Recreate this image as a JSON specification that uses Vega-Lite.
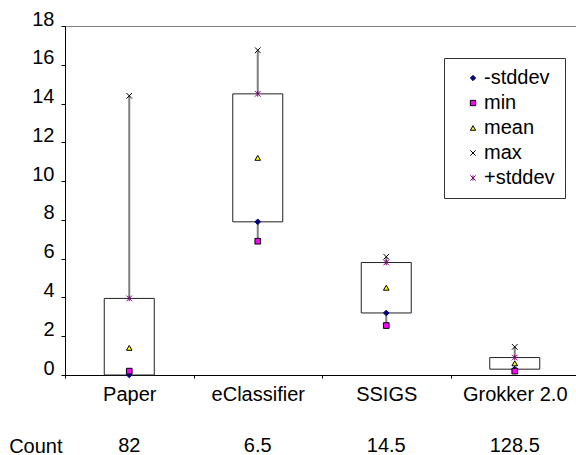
{
  "$schema": "https://vega.github.io/schema/vega-lite/v6.json",
  "padding": {"left": 8, "top": 8, "right": 0, "bottom": 0},
  "background": "white",
  "config": {
    "font": "Liberation Sans",
    "view": {"stroke": null},
    "axis": {"labelColor": "black", "labelFont": "Liberation Sans", "grid": false, "labelOverlap": false},
    "axisY": {"labelOverlap": false, "tickSize": 4, "tickColor": "black", "domainColor": "black", "labelFontSize": 20, "labelOffset": -7, "labelPadding": 7}
  },
  "data": {
    "values": [
      {"tool": "Paper", "-stddev": 0, "min": 0.2, "mean": 1.4, "max": 14.4, "+stddev": 3.95, "count": "82", "row": "Count"},
      {"tool": "eClassifier", "-stddev": 7.9, "min": 6.9, "mean": 11.2, "max": 16.75, "+stddev": 14.5, "count": "6.5", "row": "Count"},
      {"tool": "SSIGS", "-stddev": 3.2, "min": 2.55, "mean": 4.5, "max": 6.1, "+stddev": 5.8, "count": "14.5", "row": "Count"},
      {"tool": "Grokker 2.0", "-stddev": 0.3, "min": 0.2, "mean": 0.6, "max": 1.45, "+stddev": 0.9, "count": "128.5", "row": "Count"}
    ]
  },
  "resolve": {"scale": {"x": "independent", "y": "independent"}},
  "spacing": 31,
  "vconcat": [
    {
      "width": 514,
      "height": 349,
      "view": {"stroke": "#808080", "strokeWidth": 1},
      "encoding": {
        "x": {
          "field": "tool", "type": "nominal", "sort": null,
          "scale": {"type": "band", "paddingInner": 0, "paddingOuter": 0},
          "axis": {"title": null, "tickBand": "extent", "tickSize": 3, "labelFontSize": 20, "labelPadding": 6, "labelAngle": 0, "labelOverlap": false, "domainColor": "black", "tickColor": "black"}
        }
      },
      "layer": [
        {
          "mark": {"type": "rule", "color": "#808080", "strokeWidth": 2},
          "encoding": {
            "y": {"field": "min", "type": "quantitative", "scale": {"domain": [0, 18], "nice": false},
              "axis": {"title": null, "values": [0, 2, 4, 6, 8, 10, 12, 14, 16, 18], "labelOverlap": false}},
            "y2": {"field": "max"}
          }
        },
        {
          "mark": {"type": "bar", "size": 50, "fill": "white", "stroke": "#222222", "strokeWidth": 1},
          "encoding": {
            "y": {"field": "-stddev", "type": "quantitative", "scale": {"domain": [0, 18], "nice": false},
              "axis": {"title": null, "values": [0, 2, 4, 6, 8, 10, 12, 14, 16, 18], "labelOverlap": false}},
            "y2": {"field": "+stddev"}
          }
        },
        {
          "transform": [{"fold": ["-stddev", "min", "mean", "max", "+stddev"], "as": ["series", "value"]}],
          "mark": {"type": "point", "filled": true, "size": 32, "strokeWidth": 1, "opacity": 1},
          "encoding": {
            "y": {"field": "value", "type": "quantitative", "scale": {"domain": [0, 18], "nice": false},
              "axis": {"title": null, "values": [0, 2, 4, 6, 8, 10, 12, 14, 16, 18], "labelOverlap": false}},
            "shape": {
              "field": "series", "type": "nominal",
              "scale": {"domain": ["-stddev", "min", "mean", "max", "+stddev"], "range": ["diamond", "square", "triangle-up", "M-1,-1L1,1M-1,1L1,-1", "M-1,-1L1,1M-1,1L1,-1M0,-1L0,1"]},
              "legend": {"title": null, "orient": "none", "legendX": 379, "legendY": 32, "strokeColor": "#333333", "fillColor": "white", "padding": 10, "labelFontSize": 20, "rowPadding": 5, "symbolSize": 28, "symbolStrokeWidth": 1, "labelOffset": 1, "symbolOffset": 9, "labelExpr": "datum.label + '  '"}
            },
            "fill": {
              "field": "series", "type": "nominal",
              "scale": {"domain": ["-stddev", "min", "mean", "max", "+stddev"], "range": ["#000080", "#FF00FF", "#FFFF00", "transparent", "transparent"]},
              "legend": {"title": null, "orient": "none", "legendX": 379, "legendY": 32, "strokeColor": "#333333", "fillColor": "white", "padding": 10, "labelFontSize": 20, "rowPadding": 5, "symbolSize": 28, "symbolStrokeWidth": 1, "labelOffset": 1, "symbolOffset": 9, "labelExpr": "datum.label + '  '"}
            },
            "stroke": {
              "field": "series", "type": "nominal",
              "scale": {"domain": ["-stddev", "min", "mean", "max", "+stddev"], "range": ["#000080", "#000000", "#000000", "#000000", "#800080"]},
              "legend": {"title": null, "orient": "none", "legendX": 379, "legendY": 32, "strokeColor": "#333333", "fillColor": "white", "padding": 10, "labelFontSize": 20, "rowPadding": 5, "symbolSize": 28, "symbolStrokeWidth": 1, "labelOffset": 1, "symbolOffset": 9, "labelExpr": "datum.label + '  '"}
            }
          }
        }
      ]
    },
    {
      "width": 514,
      "height": 20,
      "mark": {"type": "text", "fontSize": 20, "color": "black"},
      "encoding": {
        "x": {"field": "tool", "type": "nominal", "sort": null, "scale": {"type": "point", "padding": 0.5}, "axis": null},
        "y": {"field": "row", "type": "nominal", "axis": {"title": null, "domain": false, "ticks": false, "labelFontSize": 20, "labelPadding": 3, "labelOffset": 0}},
        "text": {"field": "count"}
      }
    }
  ]
}
